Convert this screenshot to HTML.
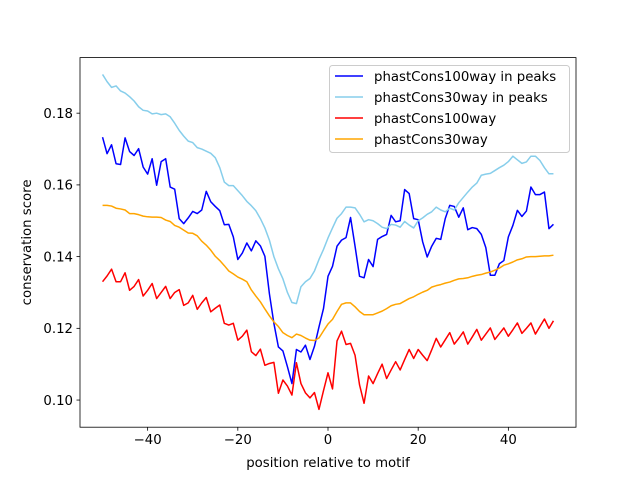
<!DOCTYPE html>
<html><head><meta charset="utf-8"><style>
body{margin:0;background:#fff;}
svg{display:block;font-family:"DejaVu Sans","Liberation Sans",sans-serif;}
</style></head><body>
<svg id="chart" width="640" height="480" xmlns="http://www.w3.org/2000/svg"></svg>
<script>
const positions = [];
for (let p = -50; p <= 50; p++) positions.push(p);
const xTicks = [-40, -20, 0, 20, 40];
const yTicks = [0.10, 0.12, 0.14, 0.16, 0.18];
const seriesNames = ["phastCons100way in peaks", "phastCons30way in peaks", "phastCons100way", "phastCons30way"];
const seriesColors = ["#0000ff", "#87ceeb", "#ff0000", "#ffa500"];
const peaks100 = [.1733,.1687,.1712,.1659,.1657,.1731,.1693,.1682,.1701,.1650,.1630,.1673,.1599,.1665,.1673,.1594,.1588,.1506,.1492,.1508,.1526,.1520,.1530,.1582,.1553,.1540,.1528,.1489,.1490,.1455,.1392,.1410,.1438,.1416,.1444,.1430,.1401,.1297,.1214,.1148,.1137,.1093,.1046,.1141,.1134,.1153,.1113,.1150,.1204,.1255,.1345,.1373,.1429,.1446,.1453,.1509,.1429,.1345,.1341,.1392,.1372,.1448,.1456,.1462,.1515,.1497,.1500,.1587,.1576,.1506,.1503,.1441,.1399,.1429,.1451,.1448,.1506,.1543,.1540,.1510,.1536,.1475,.1481,.1478,.1462,.1425,.1348,.1348,.1380,.1389,.1455,.1487,.1529,.1512,.1527,.1594,.1573,.1573,.1580,.1478,.1490];
const peaks30 = [.1908,.1888,.1872,.1876,.1862,.1856,.1846,.1834,.1818,.1808,.1806,.1798,.1800,.1796,.1798,.1790,.1772,.1752,.1736,.1722,.1718,.1704,.1700,.1694,.1688,.1676,.1648,.1608,.1598,.1598,.1584,.1570,.1554,.1542,.1528,.1506,.1480,.1446,.1400,.1366,.1338,.1300,.1272,.1269,.1316,.1330,.1339,.1360,.1392,.1420,.1452,.1480,.1507,.1520,.1538,.1538,.1536,.1518,.1497,.1503,.1500,.1492,.1482,.1478,.1490,.1488,.1482,.1498,.1488,.1480,.1500,.1508,.1518,.1525,.1538,.1530,.1525,.1535,.1530,.1550,.1565,.1580,.1594,.1605,.1627,.1630,.1632,.1640,.1648,.1655,.1665,.1680,.1670,.1660,.1664,.1680,.1680,.1668,.1648,.1631,.1631];
const all100 = [.1330,.1346,.1365,.1330,.1330,.1355,.1306,.1317,.1336,.1290,.1306,.1325,.1283,.1300,.1317,.1283,.1300,.1308,.1264,.1271,.1292,.1253,.1271,.1286,.1246,.1256,.1265,.1214,.1209,.1214,.1167,.1178,.1195,.1135,.1124,.1142,.1097,.1102,.1105,.1019,.1056,.1039,.1014,.1104,.1046,.1020,.1006,.1021,.0974,.1026,.1076,.1031,.1165,.1192,.1155,.1158,.1125,.1042,.0991,.1067,.1046,.1074,.1100,.1060,.1084,.1107,.1084,.1113,.1141,.1116,.1141,.1125,.1110,.1140,.1172,.1148,.1168,.1188,.1156,.1172,.1190,.1156,.1176,.1197,.1167,.1184,.1201,.1169,.1185,.1201,.1178,.1196,.1215,.1186,.1200,.1215,.1184,.1205,.1226,.1200,.1221];
const all30 = [.1543,.1543,.1541,.1535,.1533,.1530,.1520,.1520,.1517,.1513,.1511,.1510,.1510,.1509,.1502,.1498,.1487,.1482,.1474,.1466,.1465,.1458,.1443,.1432,.1418,.1401,.1389,.1375,.1360,.1352,.1343,.1337,.1330,.1307,.1290,.1274,.1254,.1235,.1218,.1205,.1188,.1180,.1174,.1184,.1180,.1173,.1167,.1166,.1173,.1193,.1212,.1225,.1247,.1267,.1271,.1271,.1260,.1247,.1238,.1238,.1238,.1243,.1248,.1255,.1263,.1267,.1269,.1276,.1283,.1288,.1295,.1301,.1306,.1315,.1319,.1322,.1326,.1329,.1334,.1338,.1339,.1341,.1345,.1348,.1350,.1354,.1357,.1362,.1368,.1376,.1380,.1385,.1391,.1394,.1399,.1400,.1400,.1401,.1402,.1402,.1404];
const seriesData = [peaks100, peaks30, all100, all30];

const NS = "http://www.w3.org/2000/svg";
const svg = document.getElementById("chart");
const L = 80, R = 576, T = 57.6, B = 427.2;
const xMin = -55, xMax = 55, yMin = 0.09243, yMax = 0.19550;
function xs(v){ return L + (v - xMin) / (xMax - xMin) * (R - L); }
function ys(v){ return B - (v - yMin) / (yMax - yMin) * (B - T); }
function mk(tag, attrs, parent){ const e = document.createElementNS(NS, tag); for (const k in attrs) e.setAttribute(k, attrs[k]); (parent || svg).appendChild(e); return e; }

seriesData.forEach((arr, s) => {
  const d = arr.map((v, i) => (i ? "L" : "M") + xs(positions[i]).toFixed(2) + "," + ys(v).toFixed(2)).join(" ");
  const p = mk("path", {d: d, fill: "none", stroke: seriesColors[s], "stroke-width": 1.5, "stroke-linejoin": "round"});
  
  
});

const frame = mk("rect", {x: L, y: T, width: R - L, height: B - T, fill: "none", stroke: "#000", "stroke-width": 0.8});



xTicks.forEach(t => {
  const x = xs(t);
  const tk = mk("line", {x1: x, x2: x, y1: B, y2: B + 3.5, stroke: "#000", "stroke-width": 0.8});
  
  
  const tl = mk("text", {x: x, y: B + 17, "text-anchor": "middle", "font-size": "13.3", fill: "#000"});
  tl.textContent = (t < 0 ? "\u2212" + (-t) : String(t));
  
  
});
yTicks.forEach(t => {
  const y = ys(t);
  const tk = mk("line", {x1: L - 3.5, x2: L, y1: y, y2: y, stroke: "#000", "stroke-width": 0.8});
  
  
  const tl = mk("text", {x: L - 7, y: y + 4.8, "text-anchor": "end", "font-size": "13.3", fill: "#000"});
  tl.textContent = t.toFixed(2);
  
  
});

const xl = mk("text", {x: (L + R) / 2, y: 467, "text-anchor": "middle", "font-size": "13.3"});
xl.textContent = "position relative to motif";


const yl = mk("text", {x: 0, y: 0, "text-anchor": "middle", "font-size": "13.3", transform: "translate(31," + ((T + B) / 2) + ") rotate(-90)"});
yl.textContent = "conservation score";



const lg = mk("g", {});


mk("rect", {x: 329.5, y: 65.5, width: 240, height: 87, rx: 3, fill: "#fff", "fill-opacity": 0.8, stroke: "#ccc", "stroke-width": 1}, lg);
seriesNames.forEach((n, i) => {
  const y = 76 + i * 21;
  const g = mk("g", {}, lg);
  
  
  mk("line", {x1: 335, x2: 363, y1: y, y2: y, stroke: seriesColors[i], "stroke-width": 1.5}, g);
  const t = mk("text", {x: 374, y: y + 4.8, "font-size": "13.3"}, g);
  t.textContent = n;
});
</script>
</body></html>
